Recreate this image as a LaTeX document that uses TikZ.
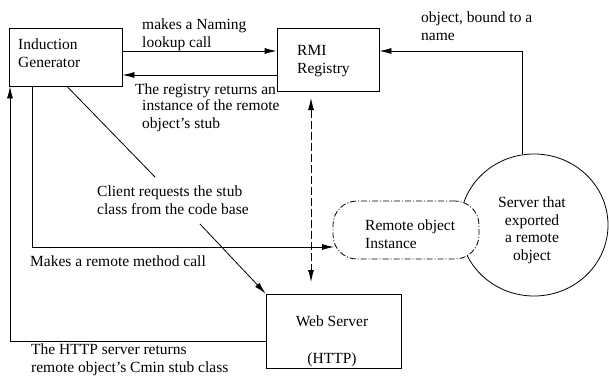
\documentclass[tikz,border=0pt]{standalone}
\usepackage{fontspec}
\setmainfont{Liberation Serif}
\usetikzlibrary{arrows.meta,calc,shapes.geometric}
\begin{document}
\begin{tikzpicture}[x=1pt,y=-1pt,
  every node/.style={font=\fontsize{15.5}{17.5}\selectfont},
  box/.style={draw, line width=0.8pt, inner sep=0pt},
  txt/.style={inner sep=0pt, anchor=base west, align=left},
  ctxt/.style={inner sep=0pt, anchor=base, align=center},
  conn/.style={line width=0.8pt},
  tip/.style={-{Latex[length=12pt,width=6pt]}},
  dtip/.style={{Latex[length=12pt,width=6pt]}-{Latex[length=12pt,width=6pt]}},
  longdash/.style={dash pattern=on 8pt off 3pt},
  dashdotline/.style={dash pattern=on 6pt off 2pt on 1pt off 2pt},
]
\useasboundingbox (0,0) rectangle (609,383);

% shapes
\node[box, minimum width=113pt, minimum height=58pt] (ig) at (65.5,57) {};
\node[box, minimum width=102pt, minimum height=63pt] (rmi) at (328,59.5) {};
\node[box, minimum width=135pt, minimum height=74pt] (ws) at (333.5,331) {};
\node[draw, line width=0.8pt, ellipse, minimum width=148pt, minimum height=142pt, inner sep=0pt] (circ) at (534,225) {};
\node[draw, line width=0.8pt, dashdotline, fill=white, rounded corners=24pt, minimum width=146pt, minimum height=58pt, inner sep=0pt] (rob) at (406,230) {};

% shape labels (base = baseline of last line)
\node[txt] (igt) at (18,67) {Induction\\Generator};
\node[txt] (rmit) at (297,73) {RMI\\Registry};
\node[ctxt] (wst1) at (332,326) {Web Server};
\node[ctxt] (wst2) at (332,363) {(HTTP)};
\node[ctxt] (circt) at (532,260) {Server that\\exported\\a remote\\object};
\node[txt] (robt) at (365,248) {Remote object\\Instance};

% connector labels
\node[txt] (l1) at (142,47) {makes a Naming\\lookup call};
\node[txt] (l2) at (135,94) {The registry returns an};
\node[txt] (l2b) at (142,128) {instance of the remote\\object's stub};
\node[txt] (l3) at (421,40) {object, bound to a\\name};
\node[txt] (l4) at (97,214) {Client requests the stub\\class from the code base};
\node[txt] (l5) at (30,266) {Makes a remote method call};
\node[txt] (l6) at (31,372) {The HTTP server returns\\remote object's Cmin stub class};

% coordinates
\coordinate (d1) at (311,98);
\coordinate (d2) at (311,282);
\coordinate (robin) at (334,247);
\coordinate (diagA) at (155,177);
\coordinate (diagB) at (200,224);

% connectors
\draw[conn,tip] (ig.east |- 0,51) -- (rmi.west |- 0,51);
\draw[conn,tip] (rmi.west |- 0,75) -- (ig.east |- 0,75);
\draw[conn,tip] (circ.99) -- (circ.99 |- 0,51) -- (rmi.east |- 0,51);
\draw[conn,longdash,dtip] (d1) -- (d2);
\draw[conn,tip] (ig.south -| 32,0) -- (32,247) -- (robin);
\draw[conn,tip] (ws.west |- 0,341) -- (10,341) -- (ig.south -| 10,0);
\draw[conn] (ig.south -| 67,0) -- (diagA);
\draw[conn,tip] (diagB) -- (ws.north west);
\end{tikzpicture}
\end{document}
